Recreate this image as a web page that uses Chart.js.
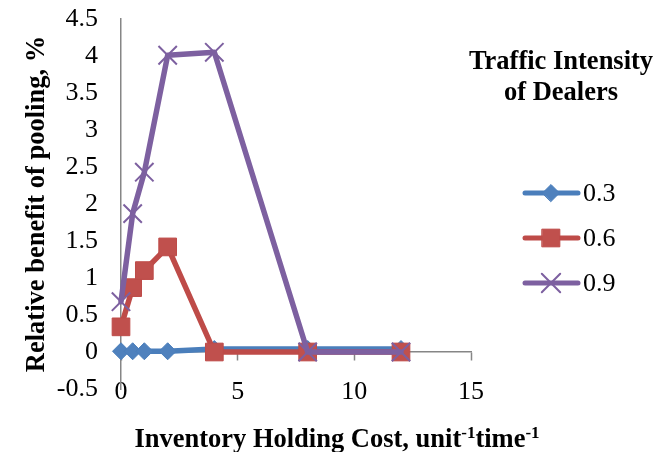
<!DOCTYPE html>
<html>
<head>
<meta charset="utf-8">
<title>Relative benefit of pooling</title>
<script src="https://cdn.jsdelivr.net/npm/chart.js@4.4.1/dist/chart.umd.min.js"></script>
<style>
  html, body { margin: 0; padding: 0; background: #fff; }
  canvas { display: block; }
</style>
</head>
<body>
<canvas id="poolingChart" width="658" height="452"></canvas>
<script>
// holding cost values on the x axis
const holdingCost = [0, 0.5, 1, 2, 4, 8, 12];
// traffic intensity of dealers, one series each
const intensityLabels = ['0.3', '0.6', '0.9'];
const benefit03 = [0.01, 0.01, 0.01, 0.01, 0.04, 0.04, 0.04];
const benefit06 = [0.34, 0.87, 1.10, 1.42, 0, 0, 0];
const benefit09 = [0.68, 1.87, 2.43, 4.01, 4.05, 0, 0];
// axis ranges and steps
const xRange = [0, 15, 5];
const yRange = [-0.5, 4.5, 0.5];

const yTitle = 'Relative benefit of pooling, %';
const xTitleParts = [['Inventory Holding Cost, unit', false], ['-1', true], ['time', false], ['-1', true]];
const legendTitle = ['Traffic Intensity', 'of Dealers'];

const serif = '"Liberation Serif", "Times New Roman", serif';
const axisGray = '#868686';

Chart.defaults.font.family = serif;
Chart.defaults.font.size = 26;
Chart.defaults.color = '#000';

const toPoints = ys => holdingCost.map((x, i) => ({ x: x, y: ys[i] }));

const lineStyle = {
  borderWidth: 5.5,
  tension: 0,
  borderJoinStyle: 'round',
  borderCapStyle: 'round',
  clip: false,
  fill: false
};

// x axis title with superscript exponents
const xTitlePlugin = {
  id: 'xTitle',
  afterDraw(chart) {
    const ctx = chart.ctx;
    const big = 'bold 26.5px ' + serif;
    const small = 'bold 17px ' + serif;
    ctx.save();
    ctx.fillStyle = '#000';
    ctx.textAlign = 'left';
    ctx.textBaseline = 'alphabetic';
    let total = 0;
    xTitleParts.forEach(([t, sup]) => { ctx.font = sup ? small : big; total += ctx.measureText(t).width; });
    let x = 337 - total / 2;
    xTitleParts.forEach(([t, sup]) => {
      ctx.font = sup ? small : big;
      ctx.fillText(t, x, sup ? 438 : 447);
      x += ctx.measureText(t).width;
    });
    ctx.restore();
  }
};

// legend on the right: title, then line + marker + label per series
const legendPlugin = {
  id: 'sideLegend',
  afterDraw(chart) {
    const ctx = chart.ctx;
    ctx.save();
    ctx.fillStyle = '#000';
    ctx.textAlign = 'center';
    ctx.textBaseline = 'middle';
    ctx.font = 'bold 26.5px ' + serif;
    legendTitle.forEach((t, i) => ctx.fillText(t, 561, 62 + i * 31));
    chart.data.datasets.forEach((ds, i) => {
      const y = 193 + i * 45;
      ctx.strokeStyle = ds.borderColor;
      ctx.lineWidth = 5;
      ctx.lineCap = 'round';
      ctx.beginPath();
      ctx.moveTo(525, y);
      ctx.lineTo(578, y);
      ctx.stroke();
      ctx.fillStyle = ds.pointBackgroundColor;
      ctx.strokeStyle = ds.pointBorderColor;
      ctx.lineWidth = ds.pointBorderWidth;
      if (Chart.helpers && Chart.helpers.drawPoint) {
        Chart.helpers.drawPoint(ctx, {
          pointStyle: ds.pointStyle,
          radius: ds.pointRadius,
          rotation: 0,
          borderWidth: ds.pointBorderWidth
        }, 551, y);
      }
      ctx.fillStyle = '#000';
      ctx.textAlign = 'left';
      ctx.font = '26px ' + serif;
      ctx.fillText(ds.label, 583, y + 1);
    });
    ctx.restore();
  }
};

new Chart(document.getElementById('poolingChart'), {
  type: 'line',
  data: {
    datasets: [
      Object.assign({
        label: intensityLabels[0],
        data: toPoints(benefit03),
        borderColor: '#4A7EBB',
        pointStyle: 'rectRot',
        pointRadius: 8.5,
        pointHoverRadius: 8.5,
        pointBorderWidth: 1,
        pointBorderColor: '#4A7EBB',
        pointBackgroundColor: '#4F81BD',
        order: 3
      }, lineStyle),
      Object.assign({
        label: intensityLabels[1],
        data: toPoints(benefit06),
        borderColor: '#BE4B48',
        pointStyle: 'rect',
        pointRadius: 12.5,
        pointHoverRadius: 12.5,
        pointBorderWidth: 1,
        pointBorderColor: '#BE4B48',
        pointBackgroundColor: '#C0504D',
        order: 2
      }, lineStyle),
      Object.assign({
        label: intensityLabels[2],
        data: toPoints(benefit09),
        borderColor: '#7D60A0',
        pointStyle: 'crossRot',
        pointRadius: 13,
        pointHoverRadius: 13,
        pointBorderWidth: 2,
        pointBorderColor: '#7D60A0',
        pointBackgroundColor: '#8064A2',
        order: 1
      }, lineStyle)
    ]
  },
  options: {
    responsive: false,
    animation: false,
    devicePixelRatio: 1,
    layout: { padding: { top: 19, right: 187, left: 0, bottom: 0 } },
    plugins: {
      legend: { display: false },
      tooltip: { enabled: false }
    },
    scales: {
      // data axis: only reserves the space under the plot
      x: {
        type: 'linear',
        position: 'bottom',
        min: xRange[0],
        max: xRange[1],
        ticks: { stepSize: xRange[2], display: false },
        grid: { display: false, drawTicks: false },
        border: { display: false },
        afterFit: s => { s.height = 63; }
      },
      // axis line with tick marks where y = 0
      xZero: {
        type: 'linear',
        position: { y: 0 },
        min: xRange[0],
        max: xRange[1],
        ticks: { stepSize: xRange[2], display: false },
        grid: { display: true, drawOnChartArea: false, drawTicks: true, tickLength: 8, color: axisGray, tickWidth: 1.5 },
        border: { display: true, color: axisGray, width: 1.5 }
      },
      // tick labels sitting level with the bottom of the y range
      xLabels: {
        type: 'linear',
        position: { y: yRange[0] },
        min: xRange[0],
        max: xRange[1],
        ticks: { stepSize: xRange[2], padding: -12.5 },
        grid: { display: false, drawTicks: false },
        border: { display: false }
      },
      y: {
        type: 'linear',
        min: yRange[0],
        max: yRange[1],
        ticks: { stepSize: yRange[2], padding: 23, callback: v => String(v) },
        grid: { display: false, drawTicks: false },
        border: { display: true, color: axisGray, width: 1.5 },
        title: {
          display: true,
          text: yTitle,
          font: { size: 26.5, weight: 'bold' },
          padding: { top: 21, bottom: 0 }
        },
        afterFit: s => {
          s.width = 121;
          // top/bottom labels fit inside the layout padding already
          s.paddingTop = 0;
          s.paddingBottom = 0;
        }
      }
    }
  },
  plugins: [xTitlePlugin, legendPlugin]
});
</script>
</body>
</html>
